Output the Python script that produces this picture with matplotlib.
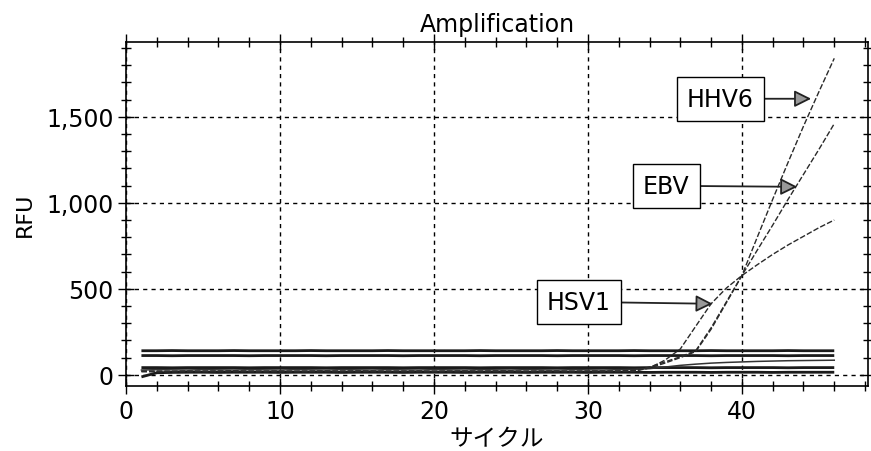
import matplotlib
matplotlib.use('Agg')
import matplotlib.pyplot as plt
from matplotlib.ticker import MultipleLocator, FuncFormatter

plt.rcParams['font.family'] = ['DejaVu Sans', 'Noto Sans CJK JP']

# cycle numbers
cycles = list(range(1, 47))

# positive samples (RFU per cycle)
hhv6 = [20, 20, 19, 20, 20, 21, 20, 20, 19, 20, 20, 20, 21, 20, 20, 20, 19, 20, 20, 20,
        20, 21, 20, 20, 20, 19, 20, 20, 20, 21, 20, 20, 22, 45, 75, 105, 140, 273, 425, 577,
        800, 1020, 1235, 1445, 1645, 1840]
ebv = [18, 18, 17, 18, 18, 18, 19, 18, 18, 18, 17, 18, 18, 18, 19, 18, 18, 18, 18, 17,
       18, 18, 18, 19, 18, 18, 18, 18, 17, 18, 18, 19, 21, 40, 68, 100, 135, 265, 420, 577,
       725, 870, 1020, 1165, 1310, 1460]
hsv1 = [22, 22, 21, 22, 22, 22, 23, 22, 22, 22, 21, 22, 22, 22, 23, 22, 22, 22, 22, 21,
        22, 22, 22, 23, 22, 22, 22, 22, 21, 22, 22, 23, 25, 40, 85, 150, 282, 413, 505, 577,
        640, 700, 755, 805, 855, 900]

# negative / flat traces
neg1 = [140, 140, 141, 140, 140, 140, 141, 140, 140, 140, 140, 141, 140, 140, 140, 140, 141, 140, 140, 140,
        140, 140, 141, 140, 140, 140, 140, 141, 140, 140, 140, 140, 141, 140, 140, 140, 140, 141, 140, 140,
        140, 140, 141, 140, 140, 140]
neg2 = [112, 112, 111, 112, 112, 112, 112, 111, 112, 112, 112, 112, 111, 112, 112, 112, 112, 111, 112, 112,
        112, 112, 111, 112, 112, 112, 112, 111, 112, 112, 112, 112, 111, 112, 112, 112, 112, 111, 112, 112,
        112, 112, 111, 112, 112, 112]
neg3 = [42, 42, 41, 42, 42, 42, 42, 41, 42, 42, 42, 42, 41, 42, 42, 42, 42, 41, 42, 42,
        42, 42, 41, 42, 42, 42, 42, 41, 42, 42, 42, 42, 41, 42, 42, 42, 42, 41, 42, 42,
        42, 42, 41, 42, 42, 42]
neg4 = [-12, 12, 14, 15, 15, 14, 15, 15, 15, 14, 15, 15, 15, 14, 15, 15, 15, 14, 15, 15,
        15, 14, 15, 15, 15, 14, 15, 15, 15, 14, 15, 15, 15, 14, 15, 15, 15, 14, 15, 15,
        15, 14, 15, 15, 15, 15]
neg5 = [28, 30, 29, 28, 30, 29, 28, 30, 29, 28, 30, 29, 28, 30, 29, 28, 30, 29, 28, 30,
        29, 28, 30, 29, 28, 30, 29, 28, 30, 29, 28, 30, 32, 36, 45, 55, 62, 68, 72, 75,
        78, 80, 82, 83, 84, 85]

labels = ['HHV6', 'EBV', 'HSV1']
label_xy = [(38.6, 1605), (35.1, 1099), (29.4, 424)]
arrow_xy = [(44.5, 1605), (43.6, 1093), (38.1, 413)]

fig = plt.figure(figsize=(8.71, 4.52), dpi=100)
ax = fig.add_axes([0.1447, 0.1438, 0.852, 0.7611])

# flat negative traces
for ys in [neg1, neg2, neg3, neg4]:
    ax.plot(cycles, ys, color='#1a1a1a', lw=2.0, solid_capstyle='butt')
ax.plot(cycles, neg5, color='#333333', lw=1.1)

# amplified samples
for ys in [hsv1, ebv, hhv6]:
    ax.plot(cycles, ys, color='#2a2a2a', lw=1.0, linestyle=(0, (4, 1.5)))

ax.set_xlim(0, 48.2)
ax.set_ylim(-65, 1935)

ax.xaxis.set_major_locator(MultipleLocator(10))
ax.xaxis.set_minor_locator(MultipleLocator(2))
ax.yaxis.set_major_locator(MultipleLocator(500))
ax.yaxis.set_minor_locator(MultipleLocator(100))
ax.yaxis.set_major_formatter(FuncFormatter(lambda v, p: f'{int(v):,}'))

ax.grid(True, which='major', color='black', linestyle=(0, (3, 3)), lw=1.0)
ax.tick_params(which='major', direction='inout', length=12, width=1.0, labelsize=17,
               top=True, right=True, pad=3)
ax.tick_params(which='minor', direction='inout', length=7, width=1.0,
               top=True, right=True)
for sp in ax.spines.values():
    sp.set_linewidth(1.2)

# labelled arrows
for name, (tx, ty), (px, py) in zip(labels, label_xy, arrow_xy):
    ax.annotate(name, xy=(px, py), xytext=(tx, ty), fontsize=17,
                ha='center', va='center',
                bbox=dict(boxstyle='square,pad=0.42', fc='white', ec='black', lw=1.0),
                arrowprops=dict(arrowstyle='-|>,head_length=0.6,head_width=0.3',
                                fc='#999999', ec='#222222', lw=1.3, shrinkA=0, shrinkB=0))

ax.set_title('Amplification', fontsize=17, pad=8)
ax.set_xlabel('サイクル', fontsize=17, labelpad=3)
ax.set_ylabel('RFU', fontsize=16, labelpad=8)

fig.savefig('out.png', dpi=100)
